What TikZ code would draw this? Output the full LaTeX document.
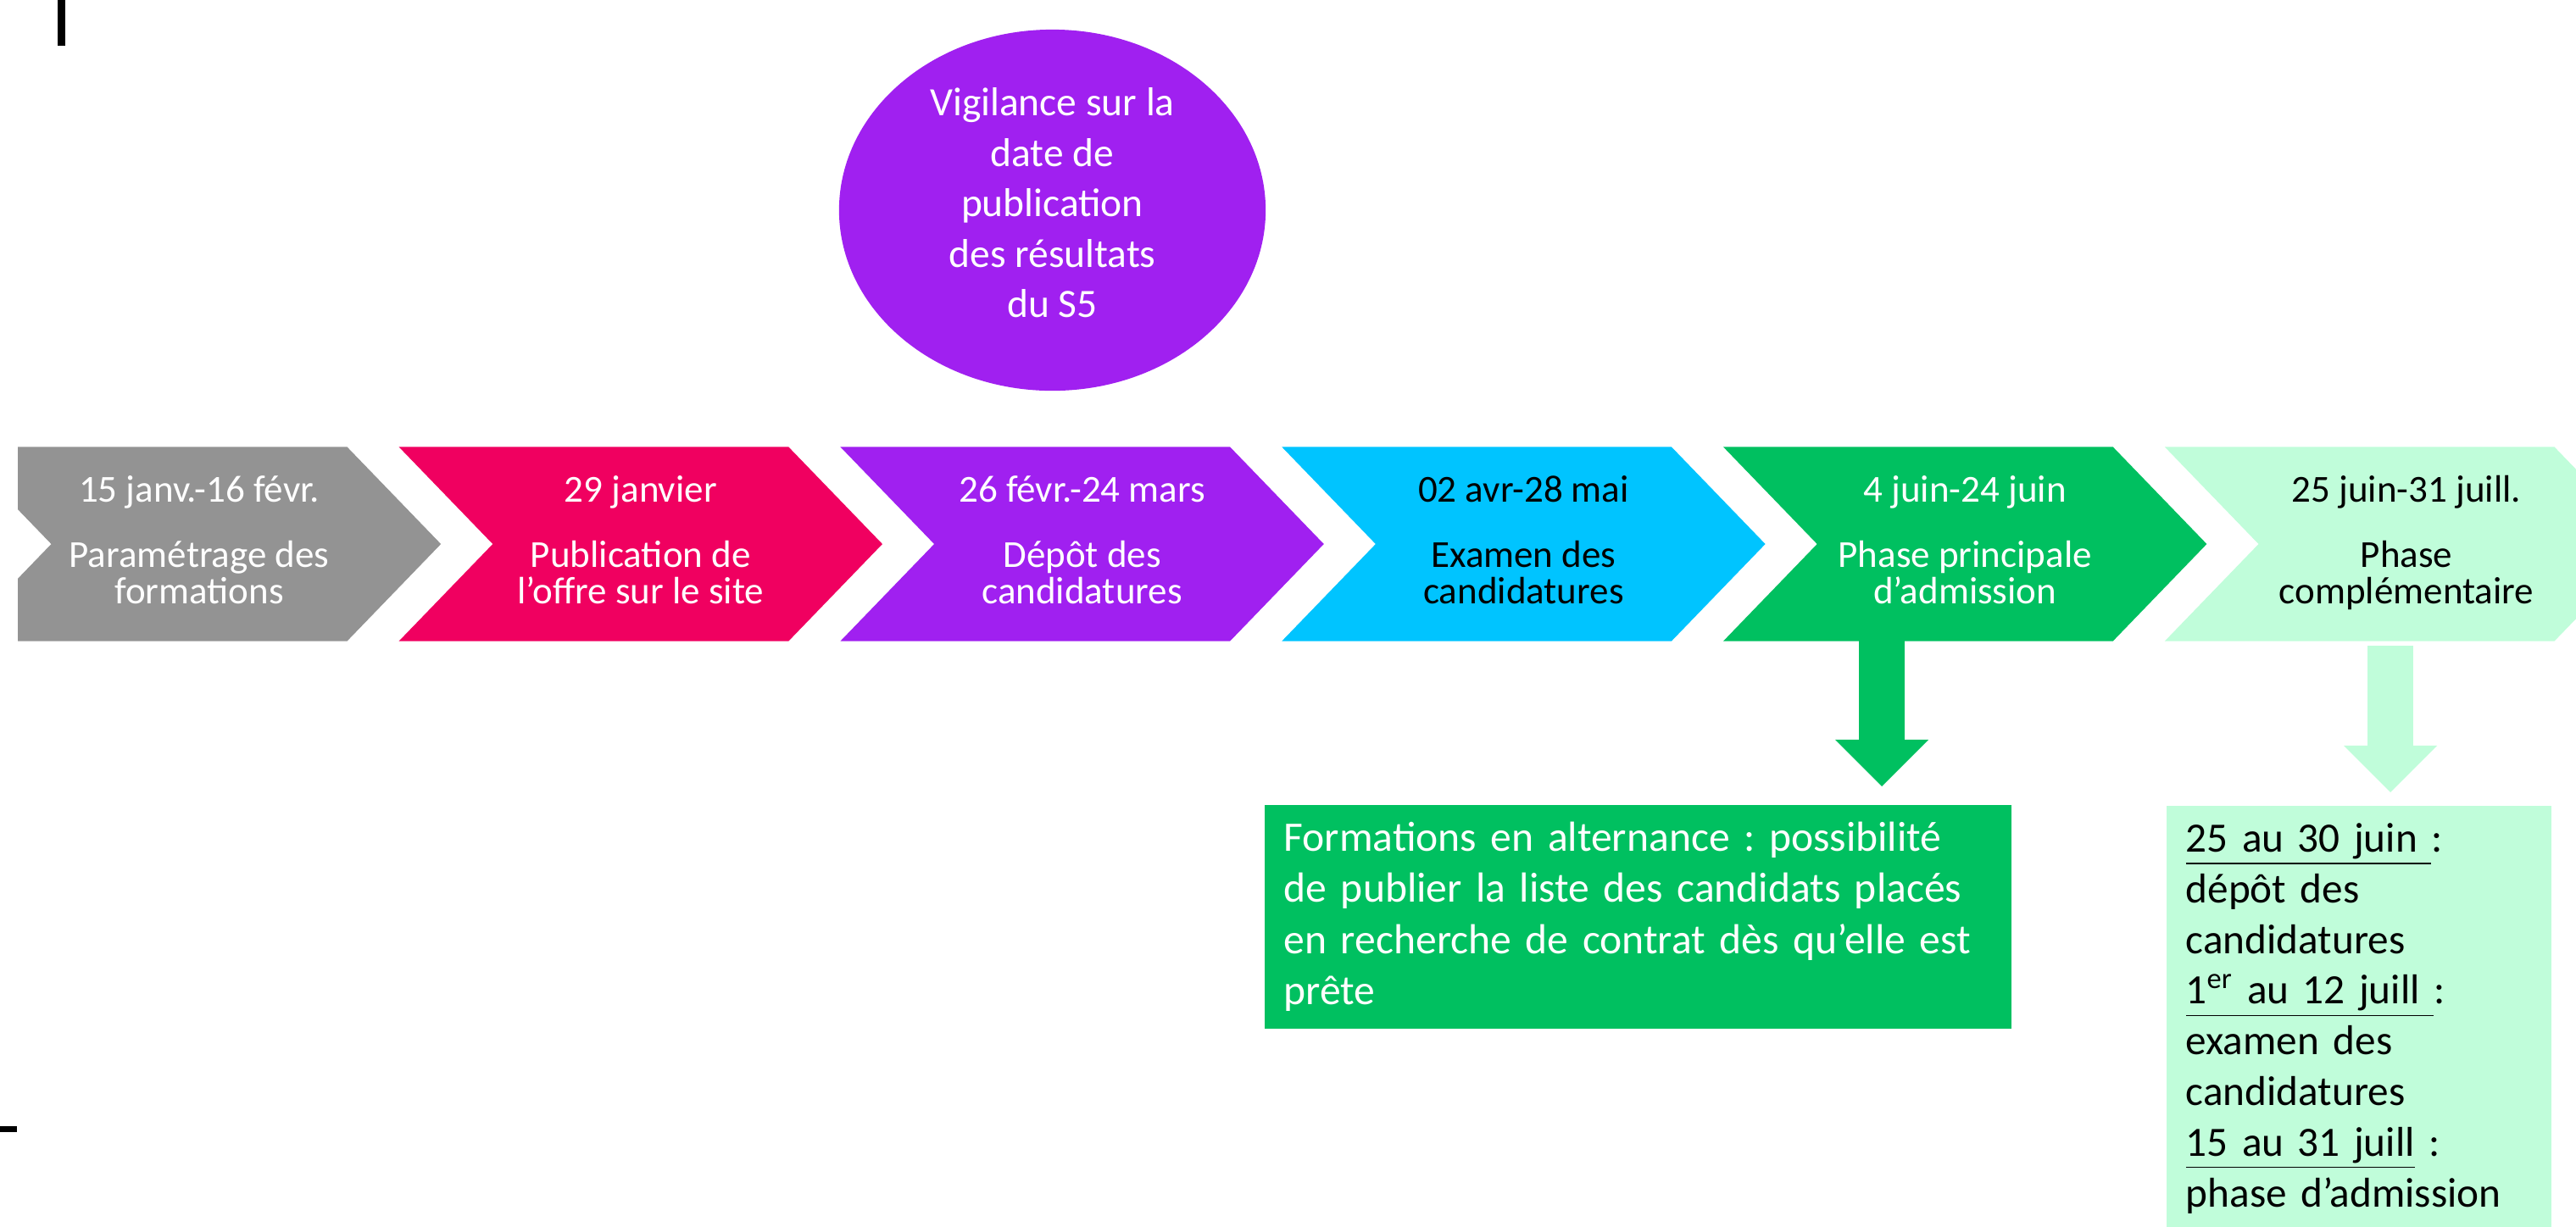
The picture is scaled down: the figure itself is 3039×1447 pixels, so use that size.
\documentclass[tikz,border=0pt]{standalone}
\usepackage{fontspec}
\setmainfont{Carlito}
\usepackage{tikz}
\usetikzlibrary{arrows.meta,shapes.symbols,shapes.geometric}

\definecolor{phgray}{HTML}{939393}
\definecolor{phpink}{HTML}{F00060}
\definecolor{phpurple}{HTML}{A020F0}
\definecolor{phcyan}{HTML}{00C4FF}
\definecolor{phgreen}{HTML}{00C060}
\definecolor{phmint}{HTML}{C0FDDA}

\newcommand{\tp}{\rule{0pt}{10pt}}
\newcommand{\bt}{\rule[-4pt]{0pt}{4pt}}
\newcommand{\phasetxt}[2]{\tp#1\\[9.7pt]#2\bt}

\begin{document}
\frenchspacing
\begin{tikzpicture}[x=0.01cm,y=-0.01cm,node distance=5.205cm,
	phase/.style={signal,signal from=west,signal to=east,signal pointer angle=92,
		minimum width=5.7cm,minimum height=2.29cm,inner sep=0pt,align=center,
		font=\fontsize{12.8}{12.2}\selectfont},
	bulle/.style={ellipse,fill=phpurple,text=white,minimum width=5.03cm,minimum height=4.26cm,
		inner sep=0pt,align=center,font=\fontsize{13.5}{16.9}\selectfont},
	encart/.style={anchor=north west,inner xsep=0.23cm,align=left},
	flecheb/.style={line width=0.54cm,-{Triangle[length=0.55cm,width=1.1cm,line width=0pt]}}]
	\useasboundingbox (0,0) rectangle (3039,1447);
	\fill (68,0) rectangle (77,54);
	\fill (0,1329) rectangle (20,1336);

	% les six etapes
	\begin{scope}
	\clip (21,0) rectangle (3039,1447);
	\node [phase, fill=phgray, text=white]		(ph1)	at (235,642)	{\phasetxt{15 janv.-16 févr.}{Paramétrage des\\formations}};
	\node [phase, fill=phpink, text=white]		(ph2)	[right of=ph1]	{\phasetxt{29 janvier}{Publication de\\l’offre sur le site}};
	\node [phase, fill=phpurple, text=white]	(ph3)	[right of=ph2]	{\phasetxt{26 févr.-24 mars}{Dépôt des\\candidatures}};
	\node [phase, fill=phcyan, text=black]		(ph4)	[right of=ph3]	{\phasetxt{02 avr-28 mai}{Examen des\\candidatures}};
	\node [phase, fill=phgreen, text=white]		(ph5)	[right of=ph4]	{\phasetxt{4 juin-24 juin}{Phase principale\\d’admission}};
	\node [phase, fill=phmint, text=black]		(ph6)	[right of=ph5]	{\phasetxt{25 juin-31 juill.}{Phase\\complémentaire}};
	\end{scope}

	\node [bulle] (vigil) at (1241.5,248) {Vigilance sur la\\date de\\publication\\des résultats\\du S5\rule[-5pt]{0pt}{5pt}};

	\node [encart, fill=phgreen, text=white, text width=8.35cm, minimum height=2.64cm,
		font=\fontsize{14.1}{17.1}\selectfont] (alt) at (1491,949)
		{Formations en alternance : possibilité\\de publier la liste des candidats placés\\en recherche de contrat dès qu’elle est\\prête};
	\node [encart, fill=phmint, text=black, inner ysep=0.21cm, text width=4.08cm,
		font=\fontsize{14}{17}\selectfont] (compl) at (2555,950)
		{\underline{25 au 30 juin }:\\dépôt des\\candidatures\\\underline{1\textsuperscript{er} au 12 juill }:\\examen des\\candidatures\\\underline{15 au 31 juill} :\\phase d’admission};

	\coordinate (a5) at (2220,756);
	\coordinate (a6) at (2820,762);
	\draw [flecheb, phgreen, shorten >=0.21cm] (a5) -- (a5 |- alt.north);
	\draw [flecheb, phmint, shorten >=0.15cm] (a6) -- (a6 |- compl.north);
\end{tikzpicture}
\end{document}
